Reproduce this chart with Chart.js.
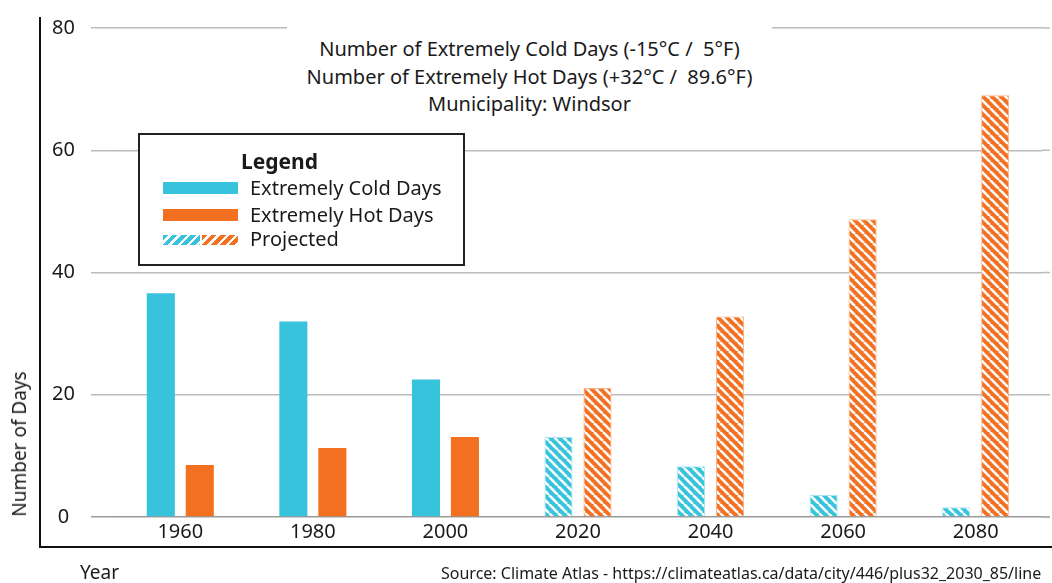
<!DOCTYPE html>
<html>
<head>
<meta charset="utf-8">
<script src="https://cdn.jsdelivr.net/npm/chart.js@4/dist/chart.umd.min.js"></script>
<style>
  body { margin: 0; background: #fff; font-family: 'Noto Sans', sans-serif; color: #1a1a1a; }
  #wrap { position: relative; width: 1052px; height: 583px; overflow: hidden; }
  #chart { position: absolute; left: 0; top: 0; }
  .frame { position: absolute; left: 39px; top: 17px; width: 1013px; height: 531px; box-sizing: border-box;
           border-left: 2px solid #111; border-bottom: 2px solid #111; }
  .title { position: absolute; left: 287px; top: 22px; width: 485px; padding-top: 13px; background: #fff;
           text-align: center; font-size: 20px; line-height: 27.5px; white-space: pre; }
  .legend { position: absolute; left: 138px; top: 133px; width: 327px; height: 133px; box-sizing: border-box;
            border: 2px solid #222; background: #fff; }
  .legend div { position: absolute; }
  .legend .head { left: 101px; top: 12px; font-weight: bold; font-size: 21px; line-height: 28px; }
  .legend .lbl { left: 110px; font-size: 20px; line-height: 26px; }
  .sw { left: 23px; width: 75px; }
  .hatch-c { background: repeating-linear-gradient(135deg, #36c3db 0 4px, #fff 4px 6.5px); }
  .hatch-o { background: repeating-linear-gradient(135deg, #f37021 0 4px, #fff 4px 6.5px); }
  .ytitle { position: absolute; left: 19px; top: 444px; transform: translate(-50%, -50%) rotate(-90deg);
            font-size: 19px; white-space: nowrap; }
  .xtitle { position: absolute; left: 80px; top: 559px; font-size: 19px; line-height: 26px; }
  .source { position: absolute; left: 441px; top: 562px; font-size: 16px; line-height: 22px; white-space: nowrap; }
</style>
</head>
<body>
<div id="wrap">
  <canvas id="chart" width="1052" height="583"></canvas>
  <div class="frame"></div>
  <div class="title">Number of Extremely Cold Days (-15°C /  5°F)
Number of Extremely Hot Days (+32°C /  89.6°F)
Municipality: Windsor</div>
  <div class="legend">
    <div class="head">Legend</div>
    <div class="sw" style="top:47px;height:12px;background:#36c3db"></div>
    <div class="lbl" style="top:40px">Extremely Cold Days</div>
    <div class="sw" style="top:74px;height:12px;background:#f37021"></div>
    <div class="lbl" style="top:67px">Extremely Hot Days</div>
    <div class="sw hatch-c" style="top:100px;height:10px;width:37px"></div>
    <div class="sw hatch-o" style="top:100px;height:10px;width:36px;left:62px"></div>
    <div class="lbl" style="top:91px">Projected</div>
  </div>
  <div class="ytitle">Number of Days</div>
  <div class="xtitle">Year</div>
  <div class="source">Source: Climate Atlas - https://climateatlas.ca/data/city/446/plus32_2030_85/line</div>
</div>
<script>
const years = ['1960', '1980', '2000', '2020', '2040', '2060', '2080'];
const coldDays = [36.6, 32.0, 22.5, 13.1, 8.3, 3.6, 1.6];
const hotDays = [8.5, 11.3, 13.1, 21.1, 32.8, 48.7, 69.0];
const projected = [false, false, false, true, true, true, true];
const yMin = 0, yMax = 80, yStep = 20;

const COLD = '#36c3db';
const HOT = '#f37021';

// white diagonal stripes for projected bars
function hatch(color) {
    const s = 9;
    const c = document.createElement('canvas');
    c.width = s; c.height = s;
    const g = c.getContext('2d');
    g.fillStyle = color;
    g.fillRect(0, 0, s, s);
    g.strokeStyle = '#fff';
    g.lineWidth = 2.6;
    [-s, 0, s].forEach(k => {
        g.beginPath();
        g.moveTo(k, 0);
        g.lineTo(k + s, s);
        g.stroke();
    });
    return g.createPattern(c, 'repeat');
}

const coldHatch = hatch(COLD);
const hotHatch = hatch(HOT);

// carry the y grid lines on to the right edge of the frame
const gridToEdge = {
    id: 'gridToEdge',
    beforeDatasetsDraw(chart) {
        const y = chart.scales.y;
        const g = chart.ctx;
        g.save();
        g.lineWidth = 1.5;
        y.ticks.forEach(t => {
            const py = y.getPixelForValue(t.value);
            g.strokeStyle = t.value === 0 ? '#9a9a9a' : '#bcbcbc';
            g.beginPath();
            g.moveTo(chart.chartArea.right, py);
            g.lineTo(chart.width - 2, py);
            g.stroke();
        });
        g.restore();
    }
};

Chart.defaults.font.family = "'Noto Sans', sans-serif";
Chart.defaults.color = '#1a1a1a';

const ctx = document.getElementById('chart').getContext('2d');
new Chart(ctx, {
    type: 'bar',
    data: {
        labels: years,
        datasets: [
            {
                label: 'Extremely Cold Days',
                data: coldDays,
                backgroundColor: projected.map(p => p ? coldHatch : COLD),
                borderColor: projected.map(p => p ? '#a6e3ee' : COLD),
                borderWidth: projected.map(p => p ? 1 : 0),
                barPercentage: 0.72,
                categoryPercentage: 0.588
            },
            {
                label: 'Extremely Hot Days',
                data: hotDays,
                backgroundColor: projected.map(p => p ? hotHatch : HOT),
                borderColor: projected.map(p => p ? '#f9b48a' : HOT),
                borderWidth: projected.map(p => p ? 1 : 0),
                barPercentage: 0.72,
                categoryPercentage: 0.588
            }
        ]
    },
    options: {
        responsive: false,
        animation: false,
        layout: { padding: { left: 40, right: 10, top: 27, bottom: 26 } },
        plugins: {
            legend: { display: false },
            tooltip: { enabled: false },
            title: { display: false }
        },
        scales: {
            x: {
                grid: { display: false },
                border: { display: false },
                ticks: { font: { size: 20 }, padding: -5 },
                afterFit(scale) { scale.height = 40; }
            },
            y: {
                min: yMin,
                max: yMax,
                grid: {
                    color: c => c.tick && c.tick.value === 0 ? '#9a9a9a' : '#bcbcbc',
                    lineWidth: 1.5,
                    drawTicks: true,
                    tickLength: 23
                },
                border: { display: false },
                ticks: { stepSize: yStep, font: { size: 20 }, padding: 16, crossAlign: 'center' },
                afterFit(scale) { scale.width = 74; }
            }
        }
    },
    plugins: [gridToEdge]
});
</script>
</body>
</html>
